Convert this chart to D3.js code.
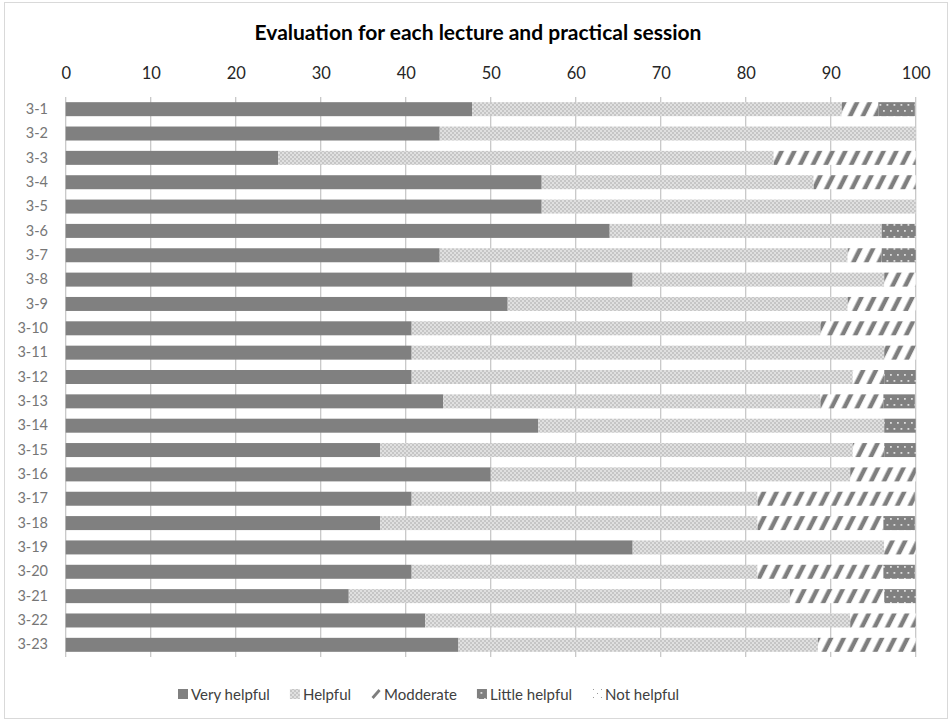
<!DOCTYPE html>
<html>
<head>
<meta charset="utf-8">
<script src="https://cdn.jsdelivr.net/npm/d3@7/dist/d3.min.js"></script>
<style>
  html, body { margin: 0; padding: 0; background: #fff; }
  svg { display: block; font-family: Lato, Calibri, Carlito, "Liberation Sans", sans-serif; }
</style>
</head>
<body>
<svg id="chart" width="952" height="722"></svg>
<script>
// Evaluation shares (%) per session
const categories = ["3-1","3-2","3-3","3-4","3-5","3-6","3-7","3-8","3-9","3-10","3-11","3-12",
                    "3-13","3-14","3-15","3-16","3-17","3-18","3-19","3-20","3-21","3-22","3-23"];
const veryHelpful   = [47.8,44,25,56,56,64,44,66.7,52,40.7,40.7,40.7,44.4,55.6,37.0,50,40.7,37.0,66.7,40.7,33.3,42.3,46.2];
const helpful       = [43.5,56,58.3,32,44,32,48,29.6,40,48.1,55.6,51.9,44.4,40.7,55.6,42.3,40.7,44.4,29.6,40.7,51.9,50.0,42.3];
const moderate      = [4.3,0,16.7,12,0,0,4,3.7,8,11.1,3.7,3.7,7.4,0,3.7,7.7,18.5,14.8,3.7,14.8,11.1,7.7,11.5];
const littleHelpful = [4.3,0,0,0,0,4,4,0,0,0,0,3.7,3.7,3.7,3.7,0,0,3.7,0,3.7,3.7,0,0];
const notHelpful    = [0,0,0,0,0,0,0,0,0,0,0,0,0,0,0,0,0,0,0,0,0,0,0];

const seriesNames = ["Very helpful","Helpful","Modderate","Little helpful","Not helpful"];
const seriesKeys  = ["vh","h","m","lh","nh"];
const xTicks = [0,10,20,30,40,50,60,70,80,90,100];
const title = "Evaluation for each lecture and practical session";

const rows = categories.map((c, i) => ({
  cat: c, vh: veryHelpful[i], h: helpful[i], m: moderate[i], lh: littleHelpful[i], nh: notHelpful[i]
}));

const svg = d3.select("#chart");
const defs = svg.append("defs");

// Fill patterns for each series
const pH = defs.append("pattern").attr("id","pat-h").attr("patternUnits","userSpaceOnUse")
  .attr("width",4).attr("height",4);
pH.append("rect").attr("width",4).attr("height",4).attr("fill","#e0e0e0");
pH.append("rect").attr("width",2).attr("height",2).attr("fill","#c6c6c6");
pH.append("rect").attr("x",2).attr("y",2).attr("width",2).attr("height",2).attr("fill","#c6c6c6");

const pM = defs.append("pattern").attr("id","pat-m").attr("patternUnits","userSpaceOnUse")
  .attr("width",11.4).attr("height",20).attr("patternTransform","rotate(26.6)");
pM.append("rect").attr("width",11.4).attr("height",20).attr("fill","#ffffff");
pM.append("rect").attr("x",0.5).attr("width",4.4).attr("height",20).attr("fill","#7e7e7e");

const pL = defs.append("pattern").attr("id","pat-lh").attr("patternUnits","userSpaceOnUse")
  .attr("width",7).attr("height",12);
pL.append("rect").attr("width",7).attr("height",12).attr("fill","#808080");
pL.append("rect").attr("x",1).attr("y",2).attr("width",1.8).attr("height",1.8).attr("fill","#dcdcdc");
pL.append("rect").attr("x",4.5).attr("y",8).attr("width",1.8).attr("height",1.8).attr("fill","#dcdcdc");

const pN = defs.append("pattern").attr("id","pat-nh").attr("patternUnits","userSpaceOnUse")
  .attr("width",8).attr("height",8);
pN.append("rect").attr("width",8).attr("height",8).attr("fill","#ffffff");
pN.append("rect").attr("x",1).attr("y",1).attr("width",1).attr("height",1).attr("fill","#9a9a9a");
pN.append("rect").attr("x",5).attr("y",5).attr("width",1).attr("height",1).attr("fill","#9a9a9a");

const fills = { vh: "#808080", h: "url(#pat-h)", m: "url(#pat-m)", lh: "url(#pat-lh)", nh: "url(#pat-nh)" };

// Chart frame
svg.append("rect").attr("x",4.5).attr("y",2.5).attr("width",943).attr("height",716)
  .attr("fill","#fff").attr("stroke","#d9d9d9");

const x = d3.scaleLinear().domain([0,100]).range([65.7, 915.7]);
const y = d3.scaleBand().domain(categories).range([97, 657])
  .paddingInner(0.425).paddingOuter(0.2125);

// Title
svg.append("text").attr("x", 478).attr("y", 39.5).attr("text-anchor","middle")
  .attr("font-size", 21).attr("font-weight","bold").attr("fill","#000").text(title);

// Vertical gridlines
svg.append("g").selectAll("line").data(xTicks).join("line")
  .attr("x1", d => x(d)).attr("x2", d => x(d))
  .attr("y1", 97).attr("y2", 657)
  .attr("stroke", "#c4c4c4").attr("stroke-width", 1.2);

// Top axis labels
const xAxis = d3.axisTop(x).tickValues(xTicks).tickSize(0).tickPadding(0);
const gx = svg.append("g").attr("transform","translate(0,79)").call(xAxis);
gx.select(".domain").remove();
gx.selectAll("text").attr("font-size", 16.5).attr("fill","#262626")
  .attr("font-family","Lato, Calibri, sans-serif").attr("dy", 0);

// Category labels
const yAxis = d3.axisLeft(y).tickSize(0).tickPadding(0);
const gy = svg.append("g").attr("transform","translate(48,0)").call(yAxis);
gy.select(".domain").remove();
gy.selectAll("text").attr("font-size", 14.5).attr("fill","#767676")
  .attr("font-family","Lato, Calibri, sans-serif");

// Stacked bars
const stack = d3.stack().keys(seriesKeys);
const layers = stack(rows);
svg.append("g").selectAll("g").data(layers).join("g")
  .attr("fill", d => fills[d.key])
  .selectAll("rect").data(d => d).join("rect")
  .attr("x", d => x(d[0]))
  .attr("y", d => y(d.data.cat))
  .attr("width", d => Math.max(0, x(d[1]) - x(d[0])))
  .attr("height", y.bandwidth());

// Legend
const legend = svg.append("g");
let lx = 178;
seriesNames.forEach((name, i) => {
  const key = seriesKeys[i];
  if (key === "m") {
    legend.append("rect").attr("x", lx).attr("y", 689).attr("width", 10).attr("height", 10).attr("fill","#fff");
    legend.append("line").attr("x1", lx + 1.5).attr("y1", 698).attr("x2", lx + 8.5).attr("y2", 690)
      .attr("stroke","#7e7e7e").attr("stroke-width", 2.8);
  } else {
    legend.append("rect").attr("x", lx).attr("y", 689).attr("width", 10).attr("height", 10)
      .attr("fill", fills[key]);
  }
  const t = legend.append("text").attr("x", lx + 13).attr("y", 699.5)
    .attr("font-size", 15).attr("fill","#404040").text(name);
  lx += 13 + t.node().getComputedTextLength() + 20;
});
</script>
</body>
</html>
